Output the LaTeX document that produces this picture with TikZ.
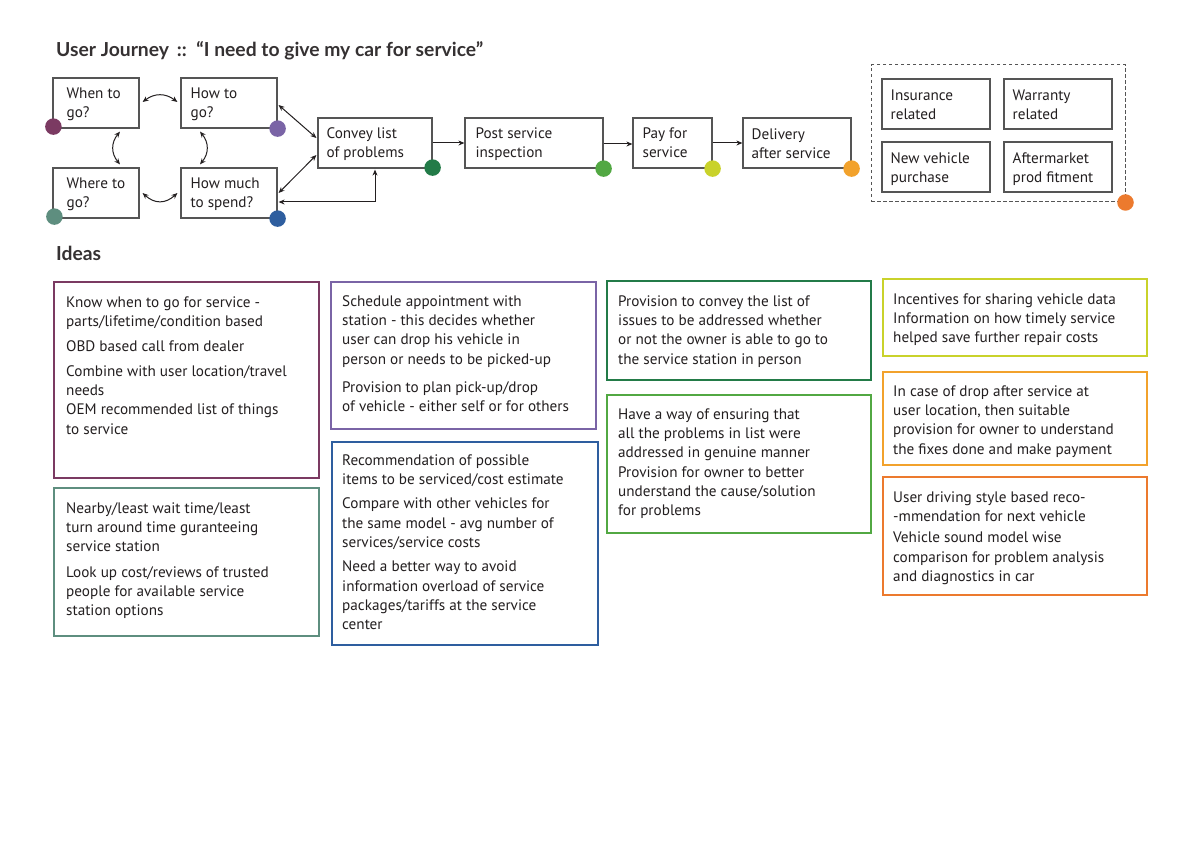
\documentclass[tikz,border=0pt]{standalone}
\usepackage{fontspec}
\setmainfont{PT Sans}
\newfontfamily\titlefont{Lato}
\usetikzlibrary{arrows.meta,calc}
\definecolor{txt}{HTML}{231F20}
\definecolor{boxgray}{HTML}{555555}
\definecolor{cA}{HTML}{7B3A62}
\definecolor{cB}{HTML}{7A64A6}
\definecolor{cC}{HTML}{5E8E7F}
\definecolor{cD}{HTML}{2E5E9F}
\definecolor{cE}{HTML}{237B48}
\definecolor{cF}{HTML}{52A843}
\definecolor{cG}{HTML}{C9D22B}
\definecolor{cH}{HTML}{F2A22C}
\definecolor{cI}{HTML}{EC7A2E}
\newcommand{\twol}[2]{\strut #1\strut\\\strut #2\strut}
\tikzset{
  every node/.style={font=\fontsize{15.2}{19.3}\selectfont, text=txt},
  flowbox/.style={draw=boxgray, line width=1.2pt, minimum height=50pt, inner sep=0pt},
  flowtext/.style={anchor=west, align=left, inner sep=0pt},
  ideabox/.style={draw, line width=2.8pt, inner sep=0pt},
  ideatext/.style={anchor=north west, align=left, inner sep=0pt},
  dot/.style={circle, inner sep=0pt, minimum size=16.5pt},
  tip/.style={-{Stealth[length=6pt,width=5pt]}},
  bitip/.style={{Stealth[length=6pt,width=5pt]}-{Stealth[length=6pt,width=5pt]}},
  conn/.style={draw=txt, line width=1pt},
  heading/.style={font=\titlefont\bfseries\fontsize{19.3}{23}\selectfont, text=txt!92, anchor=base west, inner sep=0pt}
}
\begin{document}
\begin{tikzpicture}[x=1pt,y=-1pt]
\useasboundingbox[fill=white] (0,0) rectangle (1191,842);

% headings
\node[heading] (title) at (56,57) {User Journey\, ::\, “I need to give my car for service”};
\node[heading] (ideas) at (56,261) {Ideas};

% flow boxes
\node[flowbox, minimum width=86pt] (when) at (96,103) {};
\node[flowbox, minimum width=96pt] (how) at (229,103) {};
\node[flowbox, minimum width=86pt] (where) at (96,193) {};
\node[flowbox, minimum width=96pt] (much) at (229,193) {};
\node[flowbox, minimum width=114pt] (convey) at (375,143) {};
\node[flowbox, minimum width=138pt] (post) at (534,143) {};
\node[flowbox, minimum width=79pt] (pay) at (672.5,143) {};
\node[flowbox, minimum width=108pt] (deliv) at (797,143) {};

\node[flowtext] (whenT) at ($(when.west)+(14,1)$) {\twol{When to}{go?}};
\node[flowtext] (howT) at ($(how.west)+(10,1)$) {\twol{How to}{go?}};
\node[flowtext] (whereT) at ($(where.west)+(14,1)$) {\twol{Where to}{go?}};
\node[flowtext] (muchT) at ($(much.west)+(10,1)$) {\twol{How much}{to spend?}};
\node[flowtext] (conveyT) at ($(convey.west)+(9,1)$) {\twol{Convey list}{of problems}};
\node[flowtext] (postT) at ($(post.west)+(11,1)$) {\twol{Post service}{inspection}};
\node[flowtext] (payT) at ($(pay.west)+(10,1)$) {\twol{Pay for}{service}};
\node[flowtext] (delivT) at ($(deliv.west)+(9,2)$) {\twol{Delivery}{after service}};

% dashed group
\node[draw=boxgray, line width=1pt, dash pattern=on 3.5pt off 2.5pt, minimum width=254pt, minimum height=137pt, inner sep=0pt] (group) at (998,133.5) {};
\node[flowbox, minimum width=108pt] (ins) at (936,104) {};
\node[flowbox, minimum width=108pt] (war) at (1058,104) {};
\node[flowbox, minimum width=108pt] (newv) at (936,167) {};
\node[flowbox, minimum width=108pt] (after) at (1058,167) {};
\node[flowtext] (insT) at ($(ins.west)+(9,2)$) {\twol{Insurance}{related}};
\node[flowtext] (warT) at ($(war.west)+(9,2)$) {\twol{Warranty}{related}};
\node[flowtext] (newvT) at ($(newv.west)+(9,2)$) {\twol{New vehicle}{purchase}};
\node[flowtext] (afterT) at ($(after.west)+(9,2)$) {\twol{Aftermarket}{prod fitment}};

% connectors
\draw[conn, bitip] ($(when.east)+(3,-1)$) .. controls +(12,-9) and +(-12,-9) .. ($(how.west)+(-3,-1)$);
\draw[conn, bitip] ($(where.east)+(3,0)$) .. controls +(12,11) and +(-12,11) .. ($(much.west)+(-3,0)$);
\draw[conn, bitip] ($(when.south)+(24,3)$) .. controls +(-9,11) and +(-9,-11) .. ($(where.north)+(24,-3)$);
\draw[conn, bitip] ($(how.south)+(-29,3)$) .. controls +(9,11) and +(9,-11) .. ($(much.north)+(-29,-3)$);
\draw[conn, bitip] ($(how.east)+(1,2)$) -- ($(convey.west)+(-1,-5)$);
\draw[conn, bitip] ($(much.east)+(1,0)$) -- ($(convey.west)+(-1,12)$);
\draw[conn, bitip] ($(much.east)+(1,9)$) -| ($(convey.south)+(0,1)$);
\draw[conn, tip] (convey.east) -- (post.west);
\draw[conn, tip] ($(post.east)+(0,1)$) -- ($(pay.west)+(0,1)$);
\draw[conn, tip] (pay.east) -- (deliv.west);

% dots
\node[dot, fill=cA] (dA) at ($(when.south west)+(1,-2)$) {};
\node[dot, fill=cB] (dB) at (how.south east) {};
\node[dot, fill=cC] (dC) at ($(where.south west)+(2,-2)$) {};
\node[dot, fill=cD] (dD) at (much.south east) {};
\node[dot, fill=cE] (dE) at ($(convey.south east)+(0,-1)$) {};
\node[dot, fill=cF] (dF) at (post.south east) {};
\node[dot, fill=cG] (dG) at (pay.south east) {};
\node[dot, fill=cH] (dH) at (deliv.south east) {};
\node[dot, fill=cI] (dI) at (group.south east) {};

% idea boxes
\node[ideabox, draw=cA, minimum width=265pt, minimum height=196pt] (iA) at (186.5,380) {};
\node[ideabox, draw=cC, minimum width=265pt, minimum height=148pt] (iC) at (186.5,562) {};
\node[ideabox, draw=cB, minimum width=265pt, minimum height=147pt] (iB) at (463.5,355.5) {};
\node[ideabox, draw=cD, minimum width=266pt, minimum height=203pt] (iD) at (465,543.5) {};
\node[ideabox, draw=cE, minimum width=264pt, minimum height=99pt] (iE) at (739,330.5) {};
\node[ideabox, draw=cF, minimum width=264pt, minimum height=138pt] (iF) at (739,464) {};
\node[ideabox, draw=cG, minimum width=264pt, minimum height=77pt] (iG) at (1015,317.5) {};
\node[ideabox, draw=cH, minimum width=264pt, minimum height=93pt] (iH) at (1015,418.5) {};
\node[ideabox, draw=cI, minimum width=264pt, minimum height=118pt] (iI) at (1015,536) {};

\node[ideatext] (tA) at (66,293.5) {\strut Know when to go for service -\\parts/lifetime/condition based\\[6pt]OBD based call from dealer\\[5pt]Combine with user location/travel\\needs\\OEM recommended list of things\\to service};
\node[ideatext] (tC) at (66,499.5) {\strut Nearby/least wait time/least\\turn around time guranteeing\\service station\\[6pt]Look up cost/reviews of trusted\\people for available service\\station options};
\node[ideatext] (tB) at (342,292.5) {\strut Schedule appointment with\\station - this decides whether\\user can drop his vehicle in\\person or needs to be picked-up\\[9pt]Provision to plan pick-up/drop\\of vehicle - either self or for others};
\node[ideatext] (tD) at (342,451.5) {\strut Recommendation of possible\\items to be serviced/cost estimate\\[5pt]Compare with other vehicles for\\the same model - avg number of\\services/service costs\\[5pt]Need a better way to avoid\\information overload of service\\packages/tariffs at the service\\center};
\node[ideatext] (tE) at (618,292.5) {\strut Provision to convey the list of\\issues to be addressed whether\\or not the owner is able to go to\\the service station in person};
\node[ideatext] (tF) at (618,405.5) {\strut Have a way of ensuring that\\all the problems in list were\\addressed in genuine manner\\Provision for owner to better\\understand the cause/solution\\for problems};
\node[ideatext] (tG) at (893,290.5) {\strut Incentives for sharing vehicle data\\Information on how timely service\\helped save further repair costs};
\node[ideatext] (tH) at (893,382.5) {\strut In case of drop after service at\\user location, then suitable\\provision for owner to understand\\the fixes done and make payment};
\node[ideatext] (tI) at (893,488.5) {\strut User driving style based reco-\\-mmendation for next vehicle\\[2pt]Vehicle sound model wise\\comparison for problem analysis\\and diagnostics in car};
\end{tikzpicture}
\end{document}
